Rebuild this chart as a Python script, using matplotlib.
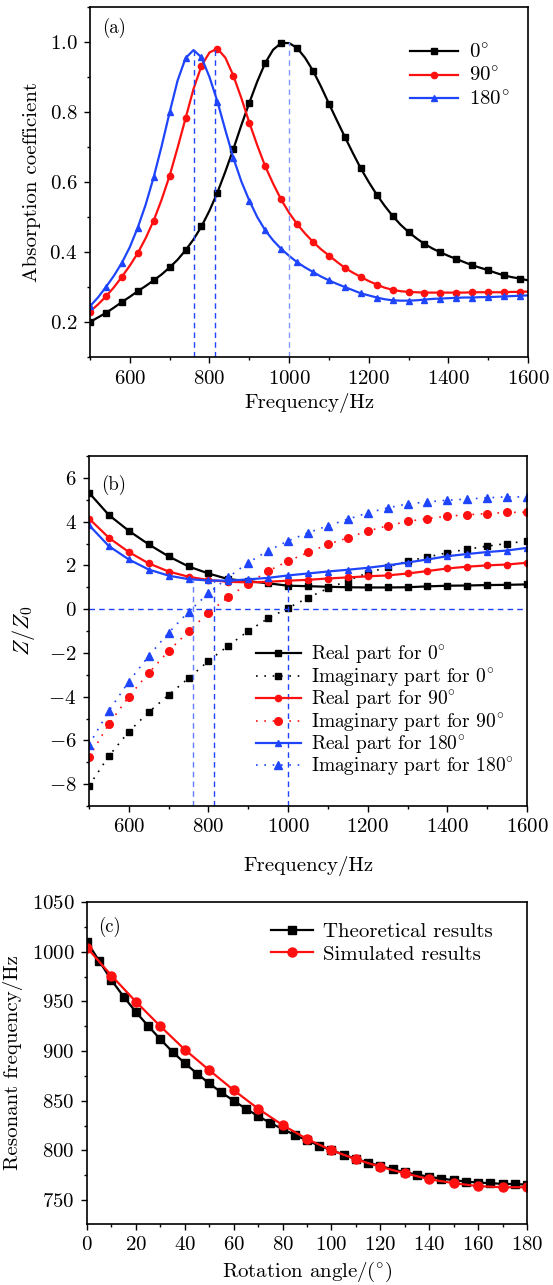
import numpy as np
import matplotlib
matplotlib.use("Agg")
import matplotlib.pyplot as plt
from matplotlib.ticker import MultipleLocator

plt.rcParams['font.family'] = ['cmr10', 'DejaVu Serif']
plt.rcParams['mathtext.fontset'] = 'cm'
plt.rcParams['axes.formatter.use_mathtext'] = True
plt.rcParams['font.size'] = 15

DEG = r'$^{\circ}$'

# ---- panel (a): absorption coefficient ----
freq_a = np.arange(500, 1601, 20)
alpha_0 = [0.200, 0.213, 0.226, 0.241, 0.257, 0.272, 0.288, 0.303, 0.319, 0.336,
           0.356, 0.378, 0.405, 0.436, 0.473, 0.518, 0.570, 0.630, 0.694, 0.762,
           0.826, 0.887, 0.940, 0.978, 0.997, 0.997, 0.983, 0.955, 0.918, 0.873,
           0.824, 0.776, 0.729, 0.683, 0.639, 0.600, 0.564, 0.532, 0.503, 0.478,
           0.457, 0.439, 0.423, 0.410, 0.399, 0.389, 0.380, 0.371, 0.362, 0.355,
           0.348, 0.340, 0.333, 0.328, 0.324, 0.319]
alpha_90 = [0.230, 0.250, 0.273, 0.299, 0.329, 0.361, 0.397, 0.440, 0.490, 0.550,
            0.618, 0.698, 0.782, 0.866, 0.932, 0.970, 0.981, 0.955, 0.904, 0.840,
            0.770, 0.705, 0.645, 0.595, 0.550, 0.512, 0.480, 0.453, 0.429, 0.408,
            0.390, 0.372, 0.355, 0.341, 0.329, 0.317, 0.307, 0.298, 0.292, 0.288,
            0.286, 0.285, 0.284, 0.284, 0.284, 0.284, 0.284, 0.284, 0.285, 0.285,
            0.285, 0.285, 0.285, 0.286, 0.286, 0.287]
alpha_180 = [0.245, 0.270, 0.300, 0.332, 0.369, 0.414, 0.470, 0.536, 0.614, 0.703,
             0.799, 0.890, 0.954, 0.977, 0.956, 0.900, 0.830, 0.748, 0.669, 0.602,
             0.547, 0.500, 0.462, 0.433, 0.409, 0.389, 0.371, 0.356, 0.343, 0.330,
             0.319, 0.309, 0.300, 0.291, 0.282, 0.276, 0.270, 0.265, 0.262, 0.261,
             0.261, 0.262, 0.264, 0.266, 0.267, 0.268, 0.269, 0.270, 0.270, 0.271,
             0.271, 0.272, 0.273, 0.274, 0.275, 0.276]
peak_freq = [760, 813, 1000]
peak_alpha = [0.977, 0.981, 1.0]

# ---- panel (b): normalized impedance ----
freq_b = np.arange(500, 1601, 50)
re_0 = [5.32, 4.30, 3.58, 2.96, 2.41, 1.95, 1.63, 1.37, 1.28, 1.18, 1.07, 1.05,
        1.02, 1.00, 0.99, 0.99, 1.00, 1.04, 1.07, 1.08, 1.10, 1.11, 1.13]
im_0 = [-8.08, -6.71, -5.60, -4.71, -3.92, -3.16, -2.37, -1.67, -1.00, -0.42,
        0.05, 0.52, 0.95, 1.30, 1.66, 1.92, 2.20, 2.38, 2.58, 2.74, 2.88, 3.00, 3.11]
re_90 = [4.14, 3.26, 2.61, 2.09, 1.72, 1.48, 1.33, 1.25, 1.22, 1.25, 1.30, 1.34,
         1.40, 1.45, 1.50, 1.54, 1.63, 1.74, 1.86, 1.94, 2.00, 2.04, 2.12]
im_90 = [-6.77, -5.25, -4.00, -2.92, -1.91, -1.02, -0.16, 0.55, 1.17, 1.74, 2.20,
         2.59, 2.96, 3.26, 3.57, 3.81, 4.01, 4.14, 4.25, 4.31, 4.37, 4.42, 4.43]
re_180 = [3.84, 2.88, 2.27, 1.81, 1.53, 1.37, 1.31, 1.30, 1.36, 1.43, 1.54, 1.63,
          1.72, 1.80, 1.89, 2.00, 2.13, 2.27, 2.42, 2.52, 2.61, 2.68, 2.80]
im_180 = [-6.20, -4.65, -3.31, -2.14, -1.08, -0.12, 0.72, 1.46, 2.13, 2.67, 3.12,
          3.49, 3.81, 4.11, 4.40, 4.63, 4.81, 4.90, 4.98, 5.03, 5.09, 5.13, 5.13]
cross_re = [1.33, 1.30, 1.07]

# ---- panel (c): resonant frequency vs rotation angle ----
angle_theory = np.arange(0, 181, 5)
f_theory = [1010, 990.5, 971.4, 954.7, 939.3, 925.3, 911.9, 899.2, 887.8, 877.4,
            867.4, 858.4, 850.0, 842.0, 834.6, 827.6, 821.6, 815.6, 810.2, 804.8,
            800.2, 795.8, 791.5, 787.8, 784.4, 781.1, 778.1, 775.8, 773.4, 771.7,
            770.1, 768.7, 767.7, 767.1, 766.4, 766.1, 765.7]
angle_sim = np.arange(0, 181, 10)
f_sim = [1004, 976, 949.7, 925, 901.5, 880.8, 860.7, 842, 825.6, 811.5, 800.2,
         791.1, 783.5, 777.1, 771.1, 767.1, 764.1, 763, 763]

BLUE = '#1f45fc'
RED = '#ff1010'

W, H = 553, 1285
fig = plt.figure(figsize=(W / 100, H / 100), dpi=100)


def style(ax, xmin_step, ymin_step):
    ax.xaxis.set_minor_locator(MultipleLocator(xmin_step))
    ax.yaxis.set_minor_locator(MultipleLocator(ymin_step))
    ax.tick_params(which='both', direction='out', top=False, right=False,
                   width=1, labelsize=15)
    ax.tick_params(which='major', length=4, pad=5)
    ax.tick_params(which='minor', length=2.5)
    for s in ax.spines.values():
        s.set_linewidth(1.2)


# (a)
ax1 = fig.add_axes([90 / W, 1 - 357 / H, 438 / W, 350 / H])
ax1.plot(freq_a, alpha_0, '-s', color='black', lw=1.6, ms=4.2, markevery=2, label='0' + DEG)
ax1.plot(freq_a, alpha_90, '-o', color=RED, lw=1.6, ms=4.5, markevery=2, label='90' + DEG)
ax1.plot(freq_a, alpha_180, '-^', color=BLUE, lw=1.6, ms=4.5, markevery=2, label='180' + DEG)
for fx, fy, c in zip(peak_freq, peak_alpha, [BLUE, BLUE, '#7f98ff']):
    ax1.plot([fx, fx], [0.1, fy], color=c, lw=1, dashes=(4, 3))
ax1.set_xlim(500, 1600)
ax1.set_ylim(0.1, 1.1)
ax1.xaxis.set_major_locator(MultipleLocator(200))
ax1.yaxis.set_major_locator(MultipleLocator(0.2))
style(ax1, 100, 0.1)
ax1.set_xlabel('Frequency/Hz', labelpad=4)
ax1.set_ylabel('Absorption coefficient', labelpad=6)
ax1.text(0.027, 0.97, '(a)', transform=ax1.transAxes, fontsize=13.5, va='top')
ax1.legend(loc='upper right', bbox_to_anchor=(1.0, 0.95), frameon=False,
           handlelength=2.3, handletextpad=0.5, labelspacing=0.2)

# (b)
ax2 = fig.add_axes([89 / W, 1 - 806 / H, 438 / W, 350 / H])
ax2.plot(freq_b, re_0, '-s', color='black', lw=1.6, ms=4.2, label='Real part for 0' + DEG)
ax2.plot(freq_b, im_0, 's', ls=(0, (1, 4)), color='black', lw=1.2, ms=5,
         label='Imaginary part for 0' + DEG)
ax2.plot(freq_b, re_90, '-o', color=RED, lw=1.6, ms=4.5, label='Real part for 90' + DEG)
ax2.plot(freq_b, im_90, 'o', ls=(0, (1, 4)), color=RED, lw=1.2, ms=5.5,
         label='Imaginary part for 90' + DEG)
ax2.plot(freq_b, re_180, '-^', color=BLUE, lw=1.6, ms=4.5, label='Real part for 180' + DEG)
ax2.plot(freq_b, im_180, '^', ls=(0, (1, 4)), color=BLUE, lw=1.2, ms=5.5,
         label='Imaginary part for 180' + DEG)
ax2.axhline(0, color=BLUE, lw=1, dashes=(4, 3))
for fx, fy, c in zip(peak_freq, cross_re, ['#5f7fff', BLUE, BLUE]):
    ax2.plot([fx, fx], [-9, fy], color=c, lw=1, dashes=(4, 3))
ax2.set_xlim(500, 1600)
ax2.set_ylim(-9, 7)
ax2.xaxis.set_major_locator(MultipleLocator(200))
ax2.yaxis.set_major_locator(MultipleLocator(2))
style(ax2, 100, 1)
ax2.set_xlabel('Frequency/Hz', labelpad=14)
ax2.set_ylabel(r'$Z/Z_0$', fontsize=16, labelpad=8)
ax2.text(0.027, 0.945, '(b)', transform=ax2.transAxes, fontsize=13.5, va='top')
ax2.legend(loc='lower right', bbox_to_anchor=(1.0, 0.04), frameon=False,
           fontsize=14, handlelength=2.3, handletextpad=0.5, labelspacing=0.0,
           borderpad=0.2)

# (c)
ax3 = fig.add_axes([87 / W, 1 - 1224 / H, 440 / W, 322 / H])
ax3.plot(angle_theory, f_theory, '-s', color='black', lw=1.6, ms=6,
         label='Theoretical results')
ax3.plot(angle_sim, f_sim, '-o', color=RED, lw=1.6, ms=6.5, label='Simulated results')
ax3.set_xlim(0, 180)
ax3.set_ylim(726, 1050)
ax3.xaxis.set_major_locator(MultipleLocator(20))
ax3.yaxis.set_major_locator(MultipleLocator(50))
style(ax3, 10, 25)
ax3.set_xlabel('Rotation angle/(' + DEG + ')', labelpad=4)
ax3.set_ylabel('Resonant frequency/Hz', labelpad=6)
ax3.text(0.025, 0.955, '(c)', transform=ax3.transAxes, fontsize=13.5, va='top')
ax3.legend(loc='upper right', bbox_to_anchor=(0.965, 0.995), frameon=False,
           handlelength=2.0, handletextpad=0.5, labelspacing=0.2)

fig.savefig('out.png', dpi=100)
